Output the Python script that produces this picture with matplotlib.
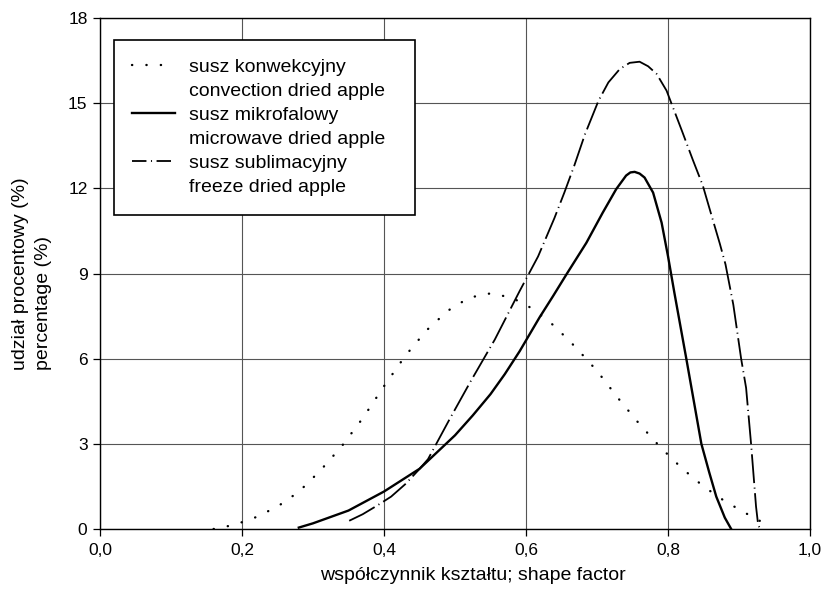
import matplotlib
matplotlib.use("Agg")
import matplotlib.pyplot as plt
from matplotlib.lines import Line2D

plt.rcParams['font.family'] = ['Liberation Sans', 'DejaVu Sans']

# susz konwekcyjny (dotted)
conv_x = [0.16, 0.19, 0.22, 0.25, 0.28, 0.31, 0.34, 0.37, 0.40, 0.43, 0.46, 0.49, 0.52,
          0.55, 0.58, 0.61, 0.64, 0.67, 0.70, 0.73, 0.76, 0.79, 0.82, 0.85, 0.88, 0.91, 0.935, 0.945]
conv_y = [0.0, 0.15, 0.42, 0.79, 1.31, 2.05, 2.9, 3.9, 5.03, 6.1, 7.0, 7.69, 8.15,
          8.3, 8.15, 7.75, 7.15, 6.4, 5.57, 4.6, 3.69, 2.86, 2.13, 1.5, 0.98, 0.55, 0.21, 0.05]

# susz mikrofalowy (solid)
micro_x = [0.28, 0.30, 0.35, 0.40, 0.45, 0.50, 0.525, 0.55, 0.57, 0.591, 0.619, 0.638, 0.657,
           0.685, 0.708, 0.727, 0.741, 0.747, 0.753, 0.760, 0.767, 0.779, 0.791, 0.800,
           0.809, 0.826, 0.847, 0.858, 0.868, 0.88, 0.889]
micro_y = [0.05, 0.2, 0.65, 1.32, 2.12, 3.3, 4.0, 4.75, 5.45, 6.26, 7.45, 8.2, 8.97,
           10.08, 11.14, 11.97, 12.45, 12.56, 12.58, 12.52, 12.38, 11.85, 10.79, 9.61,
           8.32, 5.97, 3.0, 2.0, 1.14, 0.4, 0.0]

# susz sublimacyjny (dash-dot)
freeze_x = [0.351, 0.37, 0.39, 0.41, 0.43, 0.448, 0.462, 0.492, 0.522, 0.556, 0.591, 0.617,
            0.640, 0.654, 0.668, 0.683, 0.702, 0.716, 0.732, 0.746, 0.760, 0.772, 0.784,
            0.798, 0.807, 0.82, 0.835, 0.849, 0.863, 0.873, 0.881, 0.892, 0.903, 0.910,
            0.917, 0.924, 0.927, 0.93]
freeze_y = [0.29, 0.52, 0.82, 1.14, 1.58, 2.06, 2.46, 3.85, 5.2, 6.67, 8.38, 9.6,
            10.95, 11.85, 12.8, 13.9, 15.08, 15.73, 16.2, 16.42, 16.46, 16.3, 16.03,
            15.44, 14.85, 14.0, 13.0, 12.1, 10.9, 10.05, 9.32, 7.9, 6.0, 4.97,
            3.0, 0.79, 0.14, 0.0]

x_ticks = [0.0, 0.2, 0.4, 0.6, 0.8, 1.0]
x_labels = ["0,0", "0,2", "0,4", "0,6", "0,8", "1,0"]
y_ticks = [0, 3, 6, 9, 12, 15, 18]

legend_labels = ["susz konwekcyjny", "convection dried apple",
                 "susz mikrofalowy", "microwave dried apple",
                 "susz sublimacyjny", "freeze dried apple"]

dotted = (0, (0.1, 6))
dashdot = (0, (16, 2.5, 0.6, 2.5))

fig = plt.figure(figsize=(8.25, 5.9), dpi=100)
ax = fig.add_axes([100/825, 61/590, 710/825, 511/590])

ax.plot(conv_x, conv_y, color='k', lw=1.7, ls=dotted, dash_capstyle='round')
ax.plot(micro_x, micro_y, color='k', lw=1.7)
ax.plot(freeze_x, freeze_y, color='k', lw=1.3, ls=dashdot)

ax.set_xlim(0, 1.0)
ax.set_ylim(0, 18)
ax.set_xticks(x_ticks)
ax.set_xticklabels(x_labels)
ax.set_yticks(y_ticks)
ax.tick_params(axis='both', labelsize=12.5, length=5, width=0.9, direction='out')
ax.tick_params(axis='x', pad=5)
ax.tick_params(axis='y', pad=4)
ax.grid(True, color='#555555', lw=0.8)
ax.set_axisbelow(True)
for s in ax.spines.values():
    s.set_linewidth(1.0)
    s.set_color('k')

ax.set_xlabel("współczynnik kształtu; shape factor", fontsize=14)
ax.xaxis.set_label_coords((473-100)/710, -0.075)
ax.set_ylabel("udział procentowy (%)\npercentage (%)", fontsize=14,
              multialignment='left', linespacing=1.5)
ax.yaxis.set_label_coords(-0.067, 0.5)

handles = [Line2D([], [], color='k', lw=1.7, ls=dotted, dash_capstyle='round'),
           Line2D([], [], color='none'),
           Line2D([], [], color='k', lw=1.7),
           Line2D([], [], color='none'),
           Line2D([], [], color='k', lw=1.3, ls=(0, (8, 2.5, 0.6, 2.5))),
           Line2D([], [], color='none')]
leg = ax.legend(handles, legend_labels, loc='upper left',
                bbox_to_anchor=(14/710, 0, 301/710, 1 - 22/511), mode='expand',
                borderaxespad=0, fancybox=False, edgecolor='k', framealpha=1,
                fontsize=14, handlelength=2.2, handletextpad=0.7,
                labelspacing=0.33, borderpad=0.95)
leg.get_frame().set_linewidth(1.2)

fig.savefig("out.png", dpi=100)
